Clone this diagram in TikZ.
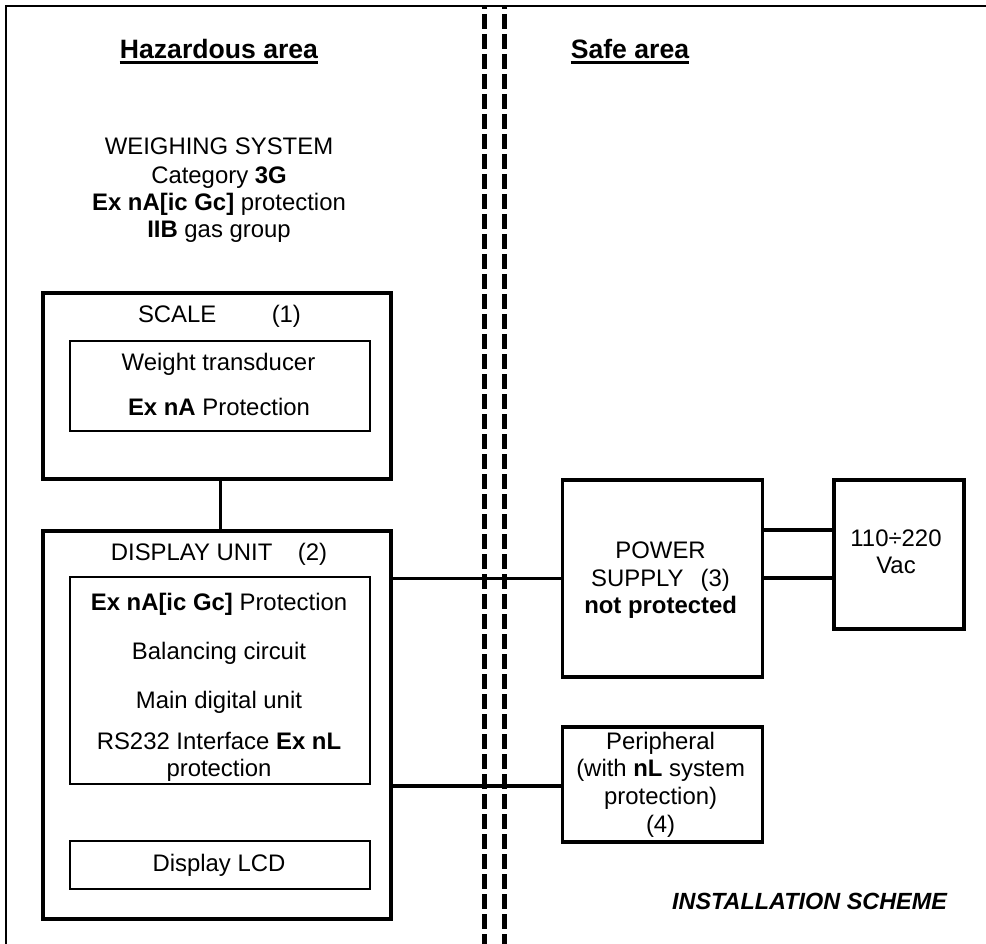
\documentclass[tikz,border=0pt]{standalone}
\usepackage{fontspec}
\setmainfont{Liberation Sans}
\begin{document}
\begin{tikzpicture}[x=1pt,y=-1pt,
  font=\fontsize{23.9}{27.7}\selectfont,
  box/.style={draw, line width=3.8pt, inner sep=0pt, anchor=north west},
  inbox/.style={draw, line width=2.2pt, inner sep=0pt, anchor=north west},
  wire/.style={line width=3.8pt},
  txt/.style={anchor=base, inner sep=0pt},
  head/.style={anchor=base, inner sep=0pt, font=\fontsize{26.6}{30}\selectfont\bfseries},
  uline/.style={line width=3pt},
  zone/.style={line width=5pt, dash pattern=on 15pt off 5pt, dash phase=12pt},
  frameline/.style={line width=2.5pt}]
\useasboundingbox (0,0) rectangle (986,944);

% frame and zone boundary
\draw[frameline] (6,944) -- (6,6) -- (986,6);
\draw[zone] (484.2,6) -- (484.2,944);
\draw[zone] (504.2,6) -- (504.2,944);

% headings
\node[head] (haz) at (219,59) {Hazardous area};
\draw[uline] ([yshift=-3.5pt]haz.base west) -- ([yshift=-3.5pt]haz.base east);
\node[head] (safe) at (630,59) {Safe area};
\draw[uline] ([yshift=-3.5pt]safe.base west) -- ([yshift=-3.5pt]safe.base east);

% weighing system description
\node[txt] (ws1) at (219,155) {WEIGHING SYSTEM};
\node[txt] (ws2) at (219,183.3) {Category \textbf{3G}};
\node[txt] (ws3) at (219,210.3) {\textbf{Ex nA[ic Gc]} protection};
\node[txt] (ws4) at (219,238) {\textbf{IIB} gas group};

% boxes
\node[box, minimum width=347.4pt, minimum height=186pt] (scale) at (41.3,291.3) {};
\node[inbox, minimum width=300pt, minimum height=90.2pt] (scalein) at (69.2,339.8) {};
\node[box, minimum width=347.4pt, minimum height=388.3pt] (disp) at (41.3,528.7) {};
\node[inbox, minimum width=300pt, minimum height=207pt] (dispin) at (69.2,576) {};
\node[inbox, minimum width=300pt, minimum height=48.2pt] (lcd) at (69.2,839.5) {};
\node[box, minimum width=200pt, minimum height=197pt] (psu) at (560.6,478) {};
\node[box, minimum width=130pt, minimum height=149.2pt] (vac) at (831.7,478) {};
\node[box, minimum width=200pt, minimum height=115pt] (peri) at (560.6,725) {};

% box texts
\node[txt] (scalet) at (219.5,323) {SCALE\hspace{55.4pt}(1)};
\node[txt] (wt) at (218.5,370.7) {Weight transducer};
\node[txt] (exna) at (219,415) {\textbf{Ex nA} Protection};

\node[txt] (dispt) at (219,560) {DISPLAY UNIT\hspace{25.4pt}(2)};
\node[txt] (d1) at (219,610) {\textbf{Ex nA[ic Gc]} Protection};
\node[txt] (d2) at (219,659.3) {Balancing circuit};
\node[txt] (d3) at (219,708) {Main digital unit};
\node[txt] (d4) at (219,749.3) {RS232 Interface \textbf{Ex nL}};
\node[txt] (d5) at (219,776) {protection};
\node[txt] (lcdt) at (219,871.7) {Display LCD};

\node[txt] (p1) at (660.6,558.3) {POWER};
\node[txt] (p2) at (660.5,586) {SUPPLY\hspace{17pt}(3)};
\node[txt] (p3) at (660.6,613.3) {\textbf{not protected}};

\node[txt] (v1) at (896,546.5) {110÷220};
\node[txt] (v2) at (896,573.5) {Vac};

\node[txt] (r1) at (660.6,749.3) {Peripheral};
\node[txt] (r2) at (660.6,776.5) {(with \textbf{nL} system};
\node[txt] (r3) at (660.6,804.5) {protection)};
\node[txt] (r4) at (660.6,832) {(4)};

\node[anchor=base, inner sep=0pt, font=\fontsize{23.4}{27}\selectfont\bfseries\itshape] (inst) at (809.5,909) {INSTALLATION SCHEME};

% connectors
\draw[wire] ([xshift=3.5pt]scale.south) -- ([xshift=3.5pt]disp.north);
\draw[wire] (psu.west -| disp.east) -- (psu.west);
\draw[wire] ([yshift=-1.2pt]peri.west -| disp.east) -- ([yshift=-1.2pt]peri.west);
\draw[wire] ([yshift=24.8pt]vac.west -| psu.east) -- ([yshift=24.8pt]vac.west);
\draw[wire] ([yshift=-23.6pt]vac.west -| psu.east) -- ([yshift=-23.6pt]vac.west);
\end{tikzpicture}
\end{document}
